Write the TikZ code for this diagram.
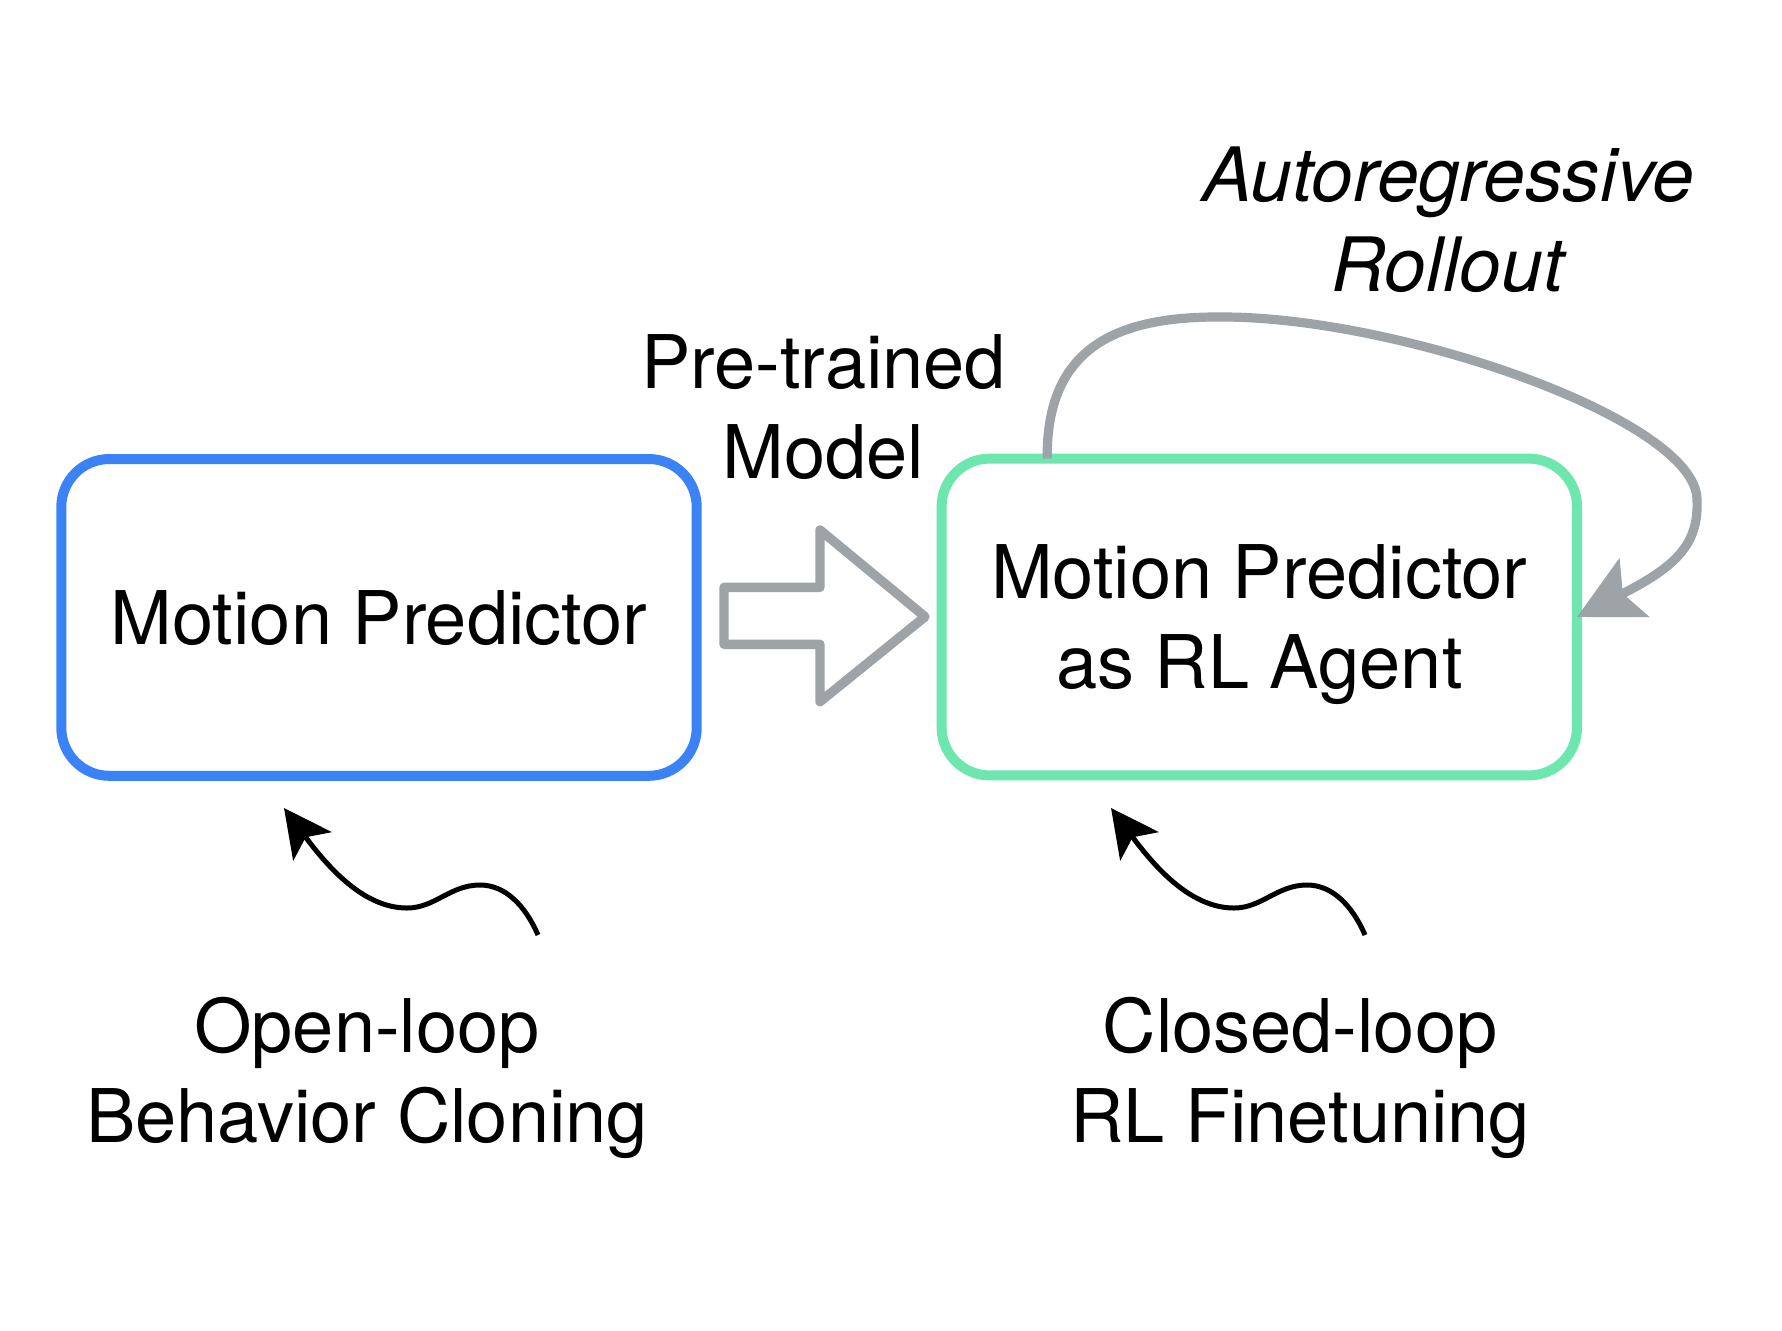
\documentclass[tikz,border=0pt]{standalone}
\usepackage{fontspec}
\setmainfont{TeX Gyre Heros}
\usetikzlibrary{arrows.meta}

\definecolor{bcblue}{HTML}{3B82F6}
\definecolor{rlgreen}{HTML}{6EE7AE}
\definecolor{loopgray}{HTML}{9EA3A7}

\begin{document}
\begin{tikzpicture}[x=0.5pt, y=-0.5pt,
    every node/.style={font=\fontsize{37}{45}\selectfont, align=center},
    predbox/.style={draw, line width=5pt, rounded corners=24pt,
      minimum width=317.7pt, minimum height=158.4pt, outer sep=0pt, text depth=0pt},
    lbl/.style={inner sep=0pt, anchor=north},
    wiggle/.style={line width=2.5pt, -{Stealth[length=23.8pt, width=23.8pt, inset=5.6pt]}},
    loopline/.style={draw=loopgray, line width=4.6pt,
      -{Stealth[length=32pt, width=32.5pt, inset=6.3pt]}}]
  % page frame
  \fill[white] (0,0) rectangle (1782,1330);
  \useasboundingbox (0,0) rectangle (1782,1330);

  % the two models
  \node[predbox, draw=bcblue] (predictor) at (379,617.4) {Motion Predictor};
  \node[predbox, draw=rlgreen] (agent) at (1259.3,617) {Motion Predictor\\as RL Agent};

  % labels
  \node[lbl] (pretrained) at (823.5,334) {Pre-trained\\Model};
  \node[lbl, font=\fontsize{37.5}{45}\selectfont\itshape] (rolloutlbl) at (1448,146) {Autoregressive\\Rollout};
  \node[lbl] (openloop) at (367,997) {Open-loop\\Behavior Cloning};
  \node[lbl] (closedloop) at (1300,997) {Closed-loop\\RL Finetuning};

  % hollow transfer arrow
  \draw[loopgray, line width=4.7pt, line join=round]
    (724,587.3) -- (820,587.3) -- (820,530) -- (925,616.7)
    -- (820,701.7) -- (820,644.3) -- (724,644.3) -- cycle;

  % rollout loop
  \draw[loopline] ([xshift=52.8pt]agent.north west)
    .. controls (1046,345) and (1120,316) .. (1223,317)
    .. controls (1400,317) and (1697,420) .. (1697,500)
    .. controls (1699,545) and (1675,567) .. (agent.east);

  % squiggly arrows
  \coordinate (bcfrom) at (538,935);
  \coordinate (bcto) at (284,808);
  \coordinate (rlfrom) at (1365,935);
  \coordinate (rlto) at (1111,808);
  \draw[wiggle] (bcfrom) .. controls (525,905) and (505,885) .. (480,885)
    .. controls (450,885) and (435,908) .. (407,908)
    .. controls (365,908) and (330,870) .. (bcto);
  \draw[wiggle] (rlfrom) .. controls (1352,905) and (1332,885) .. (1307,885)
    .. controls (1277,885) and (1262,908) .. (1234,908)
    .. controls (1192,908) and (1157,870) .. (rlto);
\end{tikzpicture}
\end{document}
